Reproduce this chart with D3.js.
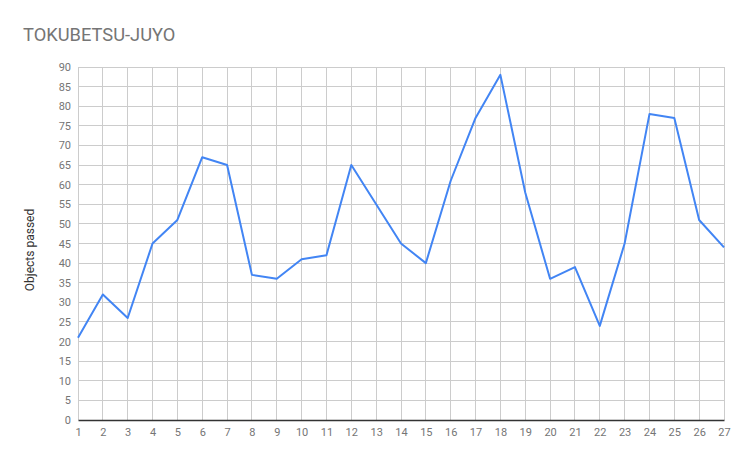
<!DOCTYPE html>
<html>
<head>
<meta charset="utf-8">
<script src="https://cdn.jsdelivr.net/npm/d3@7"></script>
<style>
  html, body { margin: 0; padding: 0; background: #fff; }
  svg { display: block; font-family: Roboto, "Noto Sans", sans-serif; }
</style>
</head>
<body>
<div id="chart"></div>
<script>
// ── Data ─────────────────────────────────────────────────────────────────────
const days   = [1, 2, 3, 4, 5, 6, 7, 8, 9, 10, 11, 12, 13, 14, 15, 16, 17, 18, 19, 20, 21, 22, 23, 24, 25, 26, 27];
const passed = [21, 32, 26, 45, 51, 67, 65, 37, 36, 41, 42, 65, 55, 45, 40, 61, 77, 88, 58, 36, 39, 24, 45, 78, 77, 51, 44];
const yTicks = d3.range(0, 91, 5);

// ── Layout ───────────────────────────────────────────────────────────────────
const W = 748, H = 463;
const m = { top: 67, right: 24, bottom: 43, left: 78 };

const svg = d3.select('#chart').append('svg')
  .attr('width', W)
  .attr('height', H);

const x = d3.scaleLinear().domain([1, 27]).range([m.left, W - m.right]);
const y = d3.scaleLinear().domain([0, 90]).range([H - m.bottom, m.top]);

// ── Title ────────────────────────────────────────────────────────────────────
svg.append('text')
  .attr('x', 23).attr('y', 41)
  .attr('font-size', 18.3)
  .attr('fill', '#757575')
  .text('TOKUBETSU-JUYO');

// ── Grid ─────────────────────────────────────────────────────────────────────
svg.append('g').selectAll('line')
  .data(yTicks.filter(d => d > 0))
  .enter().append('line')
  .attr('x1', m.left).attr('x2', W - m.right)
  .attr('y1', d => y(d)).attr('y2', d => y(d))
  .attr('stroke', '#cccccc').attr('stroke-width', 1)
  .attr('shape-rendering', 'crispEdges');

svg.append('g').selectAll('line')
  .data(days)
  .enter().append('line')
  .attr('x1', d => x(d)).attr('x2', d => x(d))
  .attr('y1', m.top).attr('y2', H - m.bottom)
  .attr('stroke', '#cccccc').attr('stroke-width', 1)
  .attr('shape-rendering', 'crispEdges');

// ── Axes ─────────────────────────────────────────────────────────────────────
const yAxis = svg.append('g')
  .attr('transform', `translate(${m.left},0)`)
  .call(d3.axisLeft(y).tickValues(yTicks).tickSize(0).tickPadding(7));
yAxis.select('.domain').remove();
yAxis.selectAll('text').attr('fill', '#757575').attr('font-size', 11).attr('font-family', 'Roboto');

const xAxis = svg.append('g')
  .attr('transform', `translate(0,${H - m.bottom})`)
  .call(d3.axisBottom(x).tickValues(days).tickFormat(d3.format('d')).tickSize(0).tickPadding(8));
xAxis.select('.domain').attr('stroke', '#333333').attr('stroke-width', 1.5);
xAxis.selectAll('text').attr('fill', '#757575').attr('font-size', 11).attr('font-family', 'Roboto');

svg.append('text')
  .attr('transform', `translate(34,250) rotate(-90)`)
  .attr('text-anchor', 'middle')
  .attr('font-size', 12)
  .attr('fill', '#333333')
  .text('Objects passed');

// ── Line ─────────────────────────────────────────────────────────────────────
const line = d3.line()
  .x((d, i) => x(days[i]))
  .y(d => y(d));

svg.append('path')
  .datum(passed)
  .attr('d', line)
  .attr('fill', 'none')
  .attr('stroke', '#4285f4')
  .attr('stroke-width', 2)
  .attr('stroke-linejoin', 'round');
</script>
</body>
</html>
